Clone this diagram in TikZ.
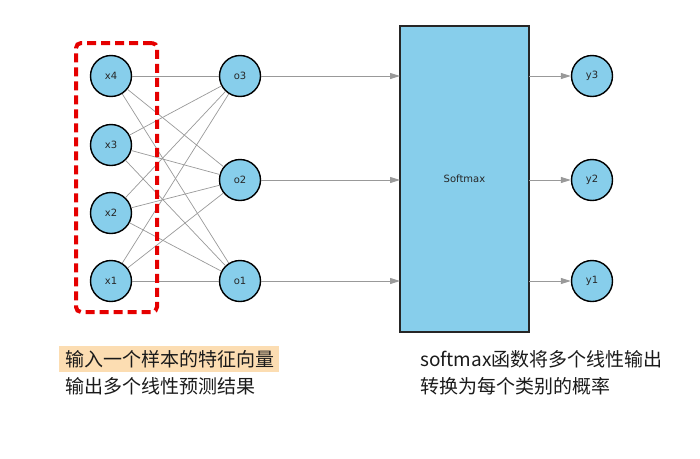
\documentclass[tikz,border=0pt]{standalone}
\usepackage{fontspec}
\setmainfont{DejaVu Sans}
\newfontfamily\cjk{Noto Sans CJK SC}
\usetikzlibrary{arrows.meta}
\definecolor{nodeblue}{HTML}{87CEEB}
\definecolor{edgegray}{HTML}{999999}
\definecolor{hl}{HTML}{FCDDB2}
\definecolor{txt}{HTML}{1A1A1A}
\begin{document}
\begin{tikzpicture}[x=1pt,y=-1pt,
  neuron/.style={circle,draw=black,line width=1.4pt,fill=nodeblue,minimum size=41pt,inner sep=0pt,font=\fontsize{10}{11}\selectfont,text=black!85},
  edge/.style={draw=edgegray,line width=0.7pt},
  arr/.style={draw=edgegray,line width=1pt,-{Triangle[length=10pt,width=6pt]}},
  captxt/.style={font=\cjk\fontsize{19}{22}\selectfont,text=txt,anchor=west,inner sep=0pt}]
\useasboundingbox (0,0) rectangle (700,458);
\node[neuron] (x4) at (111,76) {x4};
\node[neuron] (x3) at (111,145) {x3};
\node[neuron] (x2) at (111,213) {x2};
\node[neuron] (x1) at (111,281) {x1};
\node[neuron] (o3) at (240,76) {o3};
\node[neuron] (o2) at (240,180) {o2};
\node[neuron] (o1) at (240,281) {o1};
\node[draw=black!85,line width=1.2pt,fill=nodeblue,minimum width=129pt,minimum height=306pt,inner sep=0pt,font=\fontsize{10}{11}\selectfont,text=black!85] (sm) at (464.5,179) {Softmax};
\node[neuron] (y3) at (592,76) {y3};
\node[neuron] (y2) at (592,180) {y2};
\node[neuron] (y1) at (592,281) {y1};
\foreach \i in {1,2,3,4}{\foreach \j in {1,2,3}{\draw[edge] (x\i) -- (o\j);}}
\foreach \j/\yy in {3/76,2/180,1/281}{
  \coordinate (in\j) at (400,\yy);
  \coordinate (out\j) at (529,\yy);
  \draw[arr] (o\j) -- (in\j);
  \draw[arr] (out\j) -- (y\j);
}
\node[draw=red!90!black,line width=4pt,dash pattern=on 9pt off 5pt,rounded corners=5pt,minimum width=81pt,minimum height=269pt,inner sep=0pt] (sel) at (116.5,177.5) {};
\fill[hl] (59,346) rectangle (279,372);
\node[captxt] (t1) at (65,359) {输入一个样本的特征向量};
\node[captxt] (t2) at (65,386) {输出多个线性预测结果};
\node[captxt] (t3) at (420,359) {softmax函数将多个线性输出};
\node[captxt] (t4) at (420,386) {转换为每个类别的概率};
\end{tikzpicture}
\end{document}
